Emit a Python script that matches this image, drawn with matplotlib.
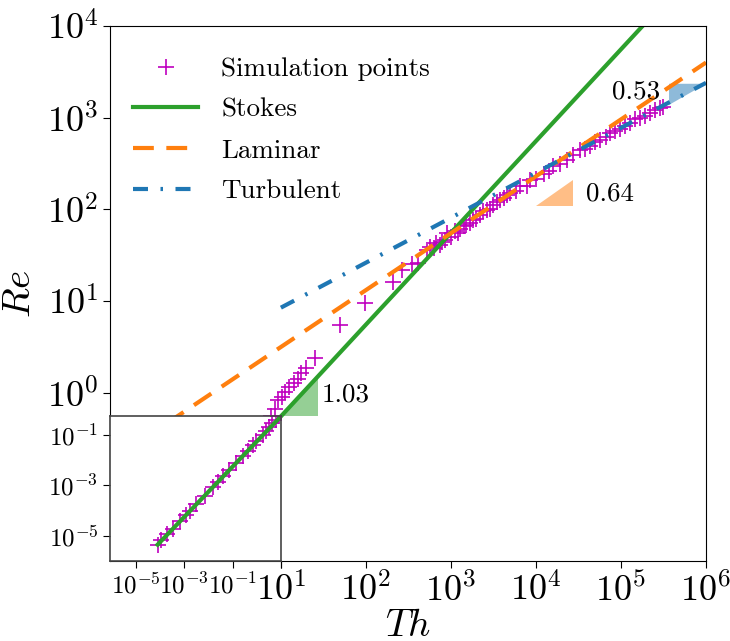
import numpy as np
import matplotlib
matplotlib.use("Agg")
import matplotlib.pyplot as plt

plt.rcParams["font.family"] = "serif"
plt.rcParams["font.serif"] = ["cmr10", "DejaVu Serif"]
plt.rcParams["mathtext.fontset"] = "cm"
plt.rcParams["axes.unicode_minus"] = False

# simulation points (log10 values)
log_th = [-4.08, -3.94, -3.72, -3.47, -3.19, -2.91, -2.78, -2.50, -2.16, -1.82,
          -1.60, -1.41, -1.13, -0.86, -0.58, -0.38, -0.17, -0.03, 0.24, 0.38,
          0.51, 0.65, 0.79, 0.88, 0.93, 0.97, 1.01, 1.05, 1.09, 1.15,
          1.20, 1.24, 1.30, 1.40, 1.69, 1.99, 2.32, 2.42, 2.54, 2.61,
          2.72, 2.75, 2.80, 2.83, 2.87, 2.90, 2.93, 2.95, 3.00, 3.05,
          3.08, 3.11, 3.15, 3.18, 3.22, 3.26, 3.30, 3.34, 3.38, 3.42,
          3.46, 3.50, 3.54, 3.58, 3.62, 3.66, 3.70, 3.77, 3.81, 3.89,
          3.93, 4.00, 4.09, 4.15, 4.20, 4.28, 4.36, 4.44, 4.52, 4.58,
          4.64, 4.70, 4.75, 4.82, 4.87, 4.93, 4.99, 5.05, 5.11, 5.16,
          5.22, 5.28, 5.34, 5.40, 5.46, 5.49]
log_re = [-5.38, -5.18, -4.95, -4.74, -4.43, -4.18, -4.02, -3.74, -3.43, -3.06,
          -2.86, -2.64, -2.39, -2.10, -1.82, -1.62, -1.40, -1.25, -0.98, -0.82,
          -0.68, -0.53, -0.38, -0.25, -0.18, -0.08, -0.04, 0.01, 0.06, 0.11,
          0.15, 0.22, 0.27, 0.38, 0.74, 0.98, 1.21, 1.34, 1.40, 1.42,
          1.56, 1.59, 1.58, 1.63, 1.61, 1.64, 1.67, 1.74, 1.70, 1.76,
          1.74, 1.79, 1.82, 1.83, 1.85, 1.89, 1.90, 1.94, 1.98, 1.99,
          2.01, 2.05, 2.08, 2.10, 2.12, 2.16, 2.18, 2.20, 2.25, 2.25,
          2.32, 2.33, 2.39, 2.42, 2.47, 2.50, 2.54, 2.59, 2.65, 2.66,
          2.69, 2.74, 2.76, 2.79, 2.83, 2.86, 2.88, 2.91, 2.94, 2.98,
          3.00, 3.02, 3.05, 3.08, 3.10, 3.12]
th = 10.0 ** np.array(log_th)
re = 10.0 ** np.array(log_re)

# correlations Re = a * Th^b
stokes_a, stokes_b = 1 / 18, 1.0
laminar_a, laminar_b = 0.76, 0.62
turb_a, turb_b = 2.75, 0.49

# slope triangles: (Th start, Re start, slope)
tri_stokes = (10.0, 10 / 18, 1.03)
tri_laminar = (1e4, 110.0, 0.64)
tri_turb = (1e6 / np.e, 2340.0, 0.53)

C_STOKES = "#2ca02c"
C_LAM = "#ff7f0e"
C_TURB = "#1f77b4"

xlo, xhi = -1.01, 6.0
ylo, yhi = -1.83, 4.0

fig = plt.figure(figsize=(7.3, 6.41), dpi=100)
ax = fig.add_axes([0.1507, 0.125, 0.8164, 0.8346])
ax.set_xscale("log")
ax.set_yscale("log")

th_s = np.logspace(-4.1, 6, 50)
th_l = np.logspace(-1, 6, 50)
th_t = np.logspace(1, 6, 50)

ax.plot(th, re, "+", color="m", ms=11, mew=1.2, label="Simulation points")
ax.plot(th_s, stokes_a * th_s ** stokes_b, "-", color=C_STOKES, lw=3, label="Stokes")
ax.plot(th_l, laminar_a * th_l ** laminar_b, color=C_LAM, lw=3, dashes=(5, 3), label="Laminar")
ax.plot(th_t, turb_a * th_t ** turb_b, color=C_TURB, lw=3, dashes=(3.6, 3, 0.6, 3), label="Turbulent")

# slope triangles
x0, y0, s = tri_stokes
ax.fill([x0, x0 * np.e, x0 * np.e], [y0, y0, y0 * np.e ** s], color=C_STOKES, alpha=0.5, lw=0)
ax.text(30, 0.97, "1.03", fontsize=19.5, ha="left", va="center")
x0, y0, s = tri_laminar
ax.fill([x0, x0 * np.e, x0 * np.e], [y0, y0, y0 * np.e ** s], color=C_LAM, alpha=0.5, lw=0)
ax.text(3.9e4, 150, "0.64", fontsize=19.5, ha="left", va="center")
x0, y1, s = tri_turb
ax.fill([x0, x0 * np.e, x0], [y1, y1, y1 / np.e ** s], color=C_TURB, alpha=0.5, lw=0)
ax.text(2.9e5, 1900, "0.53", fontsize=19.5, ha="right", va="center")

ax.set_xlim(10 ** xlo, 10 ** xhi)
ax.set_ylim(10 ** ylo, 10 ** yhi)
ax.set_xticks([10.0 ** k for k in range(1, 7)],
              labels=[r"$10^{%d}$" % k for k in range(1, 7)])
ax.set_yticks([10.0 ** k for k in range(0, 5)],
              labels=[r"$10^{%d}$" % k for k in range(0, 5)])
ax.minorticks_off()
ax.tick_params(labelsize=26, length=5)
ax.set_xlabel(r"$Th$", fontsize=28, labelpad=0)
ax.set_ylabel(r"$Re$", fontsize=28, labelpad=6)

ax.legend(loc="upper left", bbox_to_anchor=(-0.013, 1.0), frameon=False,
          fontsize=19.5, handlelength=2.4, handletextpad=0.85,
          labelspacing=0.62, borderaxespad=0.75)

# zoomed-out inset in the lower-left corner
fx = (1 - xlo) / (xhi - xlo)
fy = (np.log10(10 / 18) - ylo) / (yhi - ylo)
axin = ax.inset_axes([0, 0, fx, fy])
axin.set_xscale("log")
axin.set_yscale("log")
axin.plot(th, re, "+", color="m", ms=11, mew=1.2)
axin.plot(th_s, stokes_a * th_s ** stokes_b, "-", color=C_STOKES, lw=3)
axin.set_xlim(10 ** -6.07, 10)
axin.set_ylim(1e-6, 10 / 18)
axin.set_xticks([1e-5, 1e-3, 1e-1, 1e1],
                labels=[r"$10^{-5}$", r"$10^{-3}$", r"$10^{-1}$", ""])
axin.set_yticks([1e-5, 1e-3, 1e-1],
                labels=[r"$10^{-5}$", r"$10^{-3}$", r"$10^{-1}$"])
axin.minorticks_off()
axin.tick_params(labelsize=18, length=5)
for sp in axin.spines.values():
    sp.set_color("#444444")
    sp.set_linewidth(1.2)

fig.savefig("out.png", dpi=100)
